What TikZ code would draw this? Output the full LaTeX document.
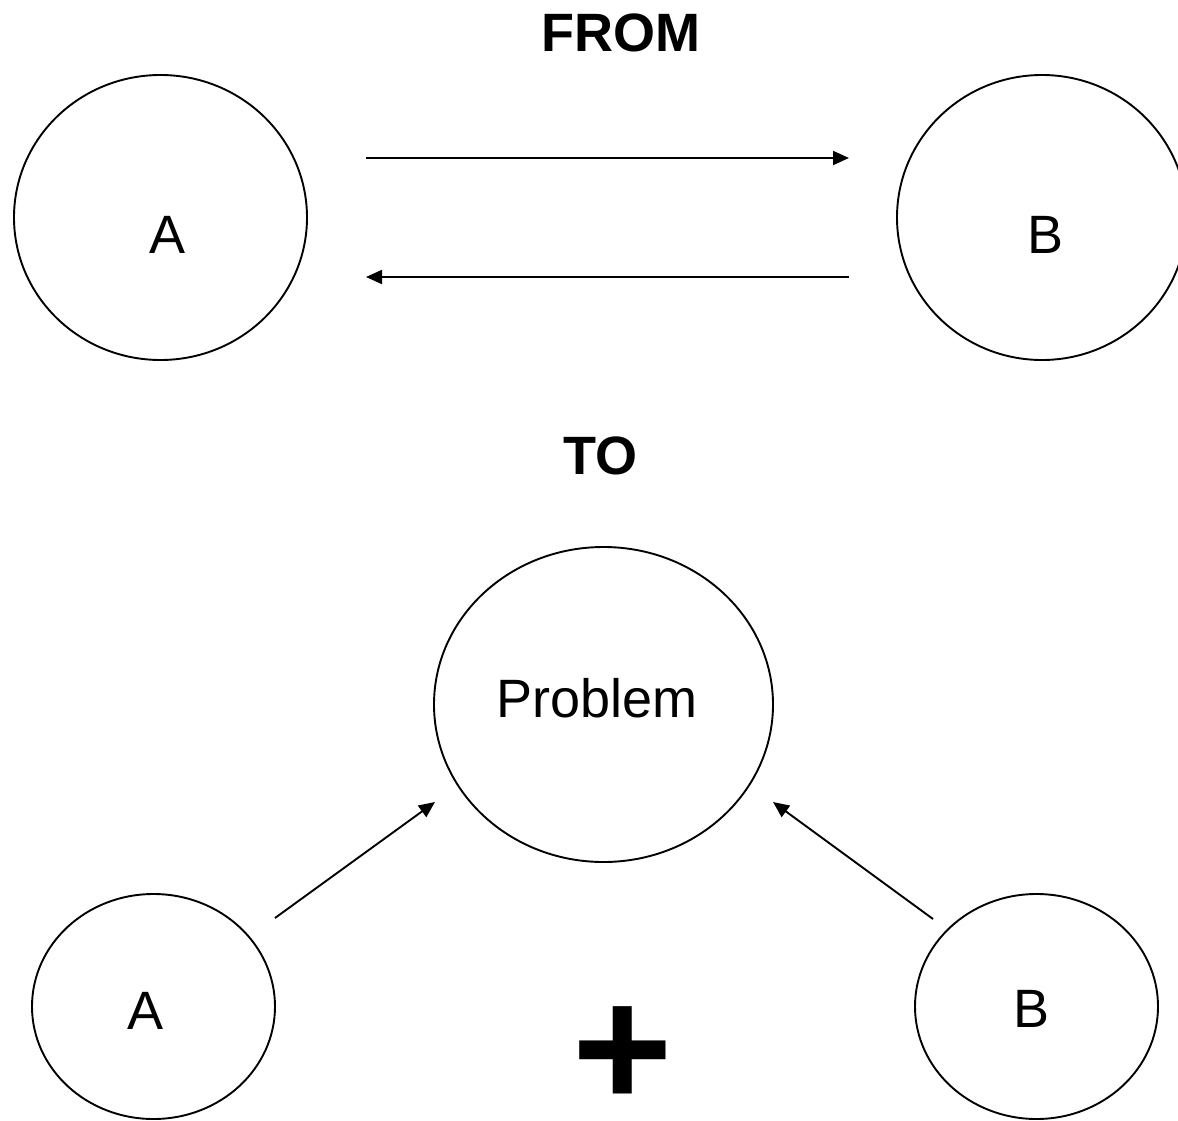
\documentclass[tikz,border=0pt]{standalone}
\usepackage{fontspec}
\setmainfont{Liberation Sans}
\usetikzlibrary{shapes.geometric,arrows.meta}
\begin{document}
\begin{tikzpicture}[x=1pt,y=-1pt,
  bubble/.style={draw, ellipse, line width=1.9pt, inner sep=0pt, outer sep=0pt},
  lbl/.style={anchor=base, inner sep=0pt, font=\fontsize{54}{60}\selectfont},
  ttl/.style={anchor=base, inner sep=0pt, font=\fontsize{54}{60}\selectfont\bfseries},
  conn/.style={line width=1.9pt, -{Triangle[length=16pt,width=14pt]}}]
\useasboundingbox[fill=white] (0,0) rectangle (1178,1121);
% titles
\node[ttl] (from) at (621,52) {FROM};
\node[ttl] (to) at (600.5,474) {TO};
% top row
\node[bubble, minimum width=293pt, minimum height=285pt] (A1) at (160.5,217.5) {};
\node[bubble, minimum width=290pt, minimum height=285pt] (B1) at (1042,217.5) {};
\node[lbl] (A1t) at (168,253) {A};
\node[lbl] (B1t) at (1045.5,253) {B};
\coordinate (r1) at (366,158);
\coordinate (r2) at (849,158);
\coordinate (l1) at (849,277);
\coordinate (l2) at (366,277);
\draw[conn] (r1) -- (r2);
\draw[conn] (l1) -- (l2);
% problem
\node[bubble, minimum width=339pt, minimum height=315pt] (P) at (603.5,704.5) {};
\node[lbl] (Pt) at (597,717) {Problem};
% bottom row
\node[bubble, minimum width=243pt, minimum height=225pt] (A2) at (153.5,1006.5) {};
\node[bubble, minimum width=243pt, minimum height=225pt] (B2) at (1036.5,1006.5) {};
\node[lbl] (A2t) at (146,1029) {A};
\node[lbl] (B2t) at (1031,1027) {B};
\coordinate (a1) at (275,918);
\coordinate (a2) at (435,802);
\coordinate (b1) at (933,919);
\coordinate (b2) at (773,802);
\draw[conn] (a1) -- (a2);
\draw[conn] (b1) -- (b2);
% plus
\node[anchor=center, inner sep=0pt, font=\fontsize{172}{172}\selectfont\bfseries] (plus) at (622.5,1057) {+};
\end{tikzpicture}
\end{document}
